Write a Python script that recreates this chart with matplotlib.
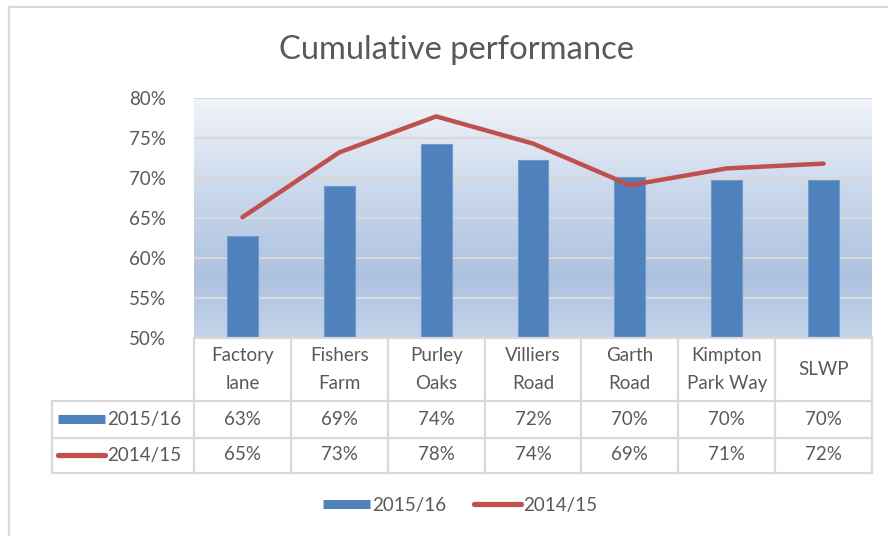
import numpy as np
import matplotlib
matplotlib.use("Agg")
import matplotlib.pyplot as plt
from matplotlib.colors import LinearSegmentedColormap
from matplotlib.lines import Line2D
from matplotlib.transforms import blended_transform_factory

# Data
sites = ["Factory\nlane", "Fishers\nFarm", "Purley\nOaks", "Villiers\nRoad",
         "Garth\nRoad", "Kimpton\nPark Way", "SLWP"]
perf_1516 = [62.7, 69.0, 74.3, 72.2, 70.1, 69.7, 69.7]
perf_1415 = [65.1, 73.2, 77.7, 74.3, 69.1, 71.2, 71.8]
label_1516 = ["63%", "69%", "74%", "72%", "70%", "70%", "70%"]
label_1415 = ["65%", "73%", "78%", "74%", "69%", "71%", "72%"]
series_names = ["2015/16", "2014/15"]
yticks = [50, 55, 60, 65, 70, 75, 80]

blue = "#4f81bd"
red = "#c0504d"
grey_txt = "#595959"
grid_c = "#d9d9d9"

plt.rcParams["font.family"] = ["Lato", "DejaVu Sans"]

W, H = 888, 536
fig = plt.figure(figsize=(W / 100, H / 100), dpi=100)

def fx(px):
    return px / W

def fy(py):
    return 1 - py / H

ax = fig.add_axes([fx(194), fy(338), fx(872) - fx(194), fy(98) - fy(338)])
x = np.arange(len(sites))

# gradient background
cmap = LinearSegmentedColormap.from_list(
    "bg", [(0, "#c4d4ea"), (0.25, "#adc2df"), (0.6, "#c9d7eb"), (1, "#f1f4fa")])
grad = np.linspace(0, 1, 256).reshape(-1, 1)
ax.imshow(grad, extent=[-0.5, len(sites) - 0.5, 50, 80], origin="lower",
          aspect="auto", cmap=cmap, zorder=0)

ax.set_xlim(-0.5, len(sites) - 0.5)
ax.set_ylim(50, 80)
ax.set_yticks(yticks)
ax.set_yticklabels([f"{t}%" for t in yticks])
for t in yticks[1:]:
    ax.axhline(t, color=grid_c, lw=1.6, zorder=1)
ax.set_xticks([])
ax.tick_params(axis="y", length=0, pad=20, labelsize=13.5, labelcolor=grey_txt)
for s in ["left", "right", "top"]:
    ax.spines[s].set_visible(False)
ax.spines["bottom"].set_color(grid_c)
ax.spines["bottom"].set_linewidth(1.6)

ax.bar(x, perf_1516, width=0.32, color=blue, edgecolor="#7199cc",
       linewidth=0.8, zorder=2)
ax.plot(x, perf_1415, color=red, lw=3.2, solid_joinstyle="round",
        solid_capstyle="round", zorder=3)

ax.set_title("Cumulative performance", fontsize=23.6, color=grey_txt,
             x=fx(456 - 194) / (fx(872) - fx(194)), y=1.0, pad=28)

# data table
tr = blended_transform_factory(ax.transData, fig.transFigure)
left_edge = -0.5 - (194 - 52) / ((872 - 194) / len(sites))
rows_y = [fy(338), fy(401), fy(437.5), fy(472.5)]
lkw = dict(color=grid_c, lw=1.6, transform=tr, clip_on=False)
for b in np.arange(-0.5, len(sites), 1.0):
    ax.add_line(Line2D([b, b], [rows_y[0], rows_y[3]], **lkw))
ax.add_line(Line2D([left_edge, left_edge], [rows_y[1], rows_y[3]], **lkw))
for yy in rows_y[1:]:
    ax.add_line(Line2D([left_edge, len(sites) - 0.5], [yy, yy], **lkw))

tkw = dict(transform=tr, ha="center", va="center", color=grey_txt,
           fontsize=13.5, clip_on=False)
for i, s in enumerate(sites):
    ax.text(i, (rows_y[0] + rows_y[1]) / 2, s, linespacing=1.75, **tkw)
    ax.text(i, (rows_y[1] + rows_y[2]) / 2, label_1516[i], **tkw)
    ax.text(i, (rows_y[2] + rows_y[3]) / 2, label_1415[i], **tkw)

# row keys
key_x0, key_x1 = left_edge + 0.06, left_edge + 0.55
ymid1 = (rows_y[1] + rows_y[2]) / 2
ymid2 = (rows_y[2] + rows_y[3]) / 2
ax.add_line(Line2D([key_x0, key_x1], [ymid1, ymid1], color=blue, lw=6.5,
                   solid_capstyle="butt", transform=tr, clip_on=False))
ax.add_line(Line2D([key_x0, key_x1], [ymid2, ymid2], color=red, lw=3.8,
                   solid_capstyle="round", transform=tr, clip_on=False))
ax.text(key_x1 + 0.02, ymid1, series_names[0], transform=tr, ha="left",
        va="center", color=grey_txt, fontsize=13.5, clip_on=False)
ax.text(key_x1 + 0.02, ymid2, series_names[1], transform=tr, ha="left",
        va="center", color=grey_txt, fontsize=13.5, clip_on=False)

# bottom legend
handles = [Line2D([], [], color=blue, lw=6.5, solid_capstyle="butt"),
           Line2D([], [], color=red, lw=3.8, solid_capstyle="round")]
fig.legend(handles, series_names, loc="center", bbox_to_anchor=(fx(460), fy(505)),
           ncol=2, frameon=False, fontsize=13.5, labelcolor=grey_txt,
           handlelength=2.5, handletextpad=0.1, columnspacing=1.5)

# outer chart frame
fig.add_artist(Line2D([fx(9), fx(9)], [fy(7), 0], color=grid_c, lw=1.6,
                      transform=fig.transFigure))
fig.add_artist(Line2D([fx(9), 1], [fy(7), fy(7)], color=grid_c, lw=1.6,
                      transform=fig.transFigure))

fig.savefig("out.png", dpi=100, facecolor="white")
